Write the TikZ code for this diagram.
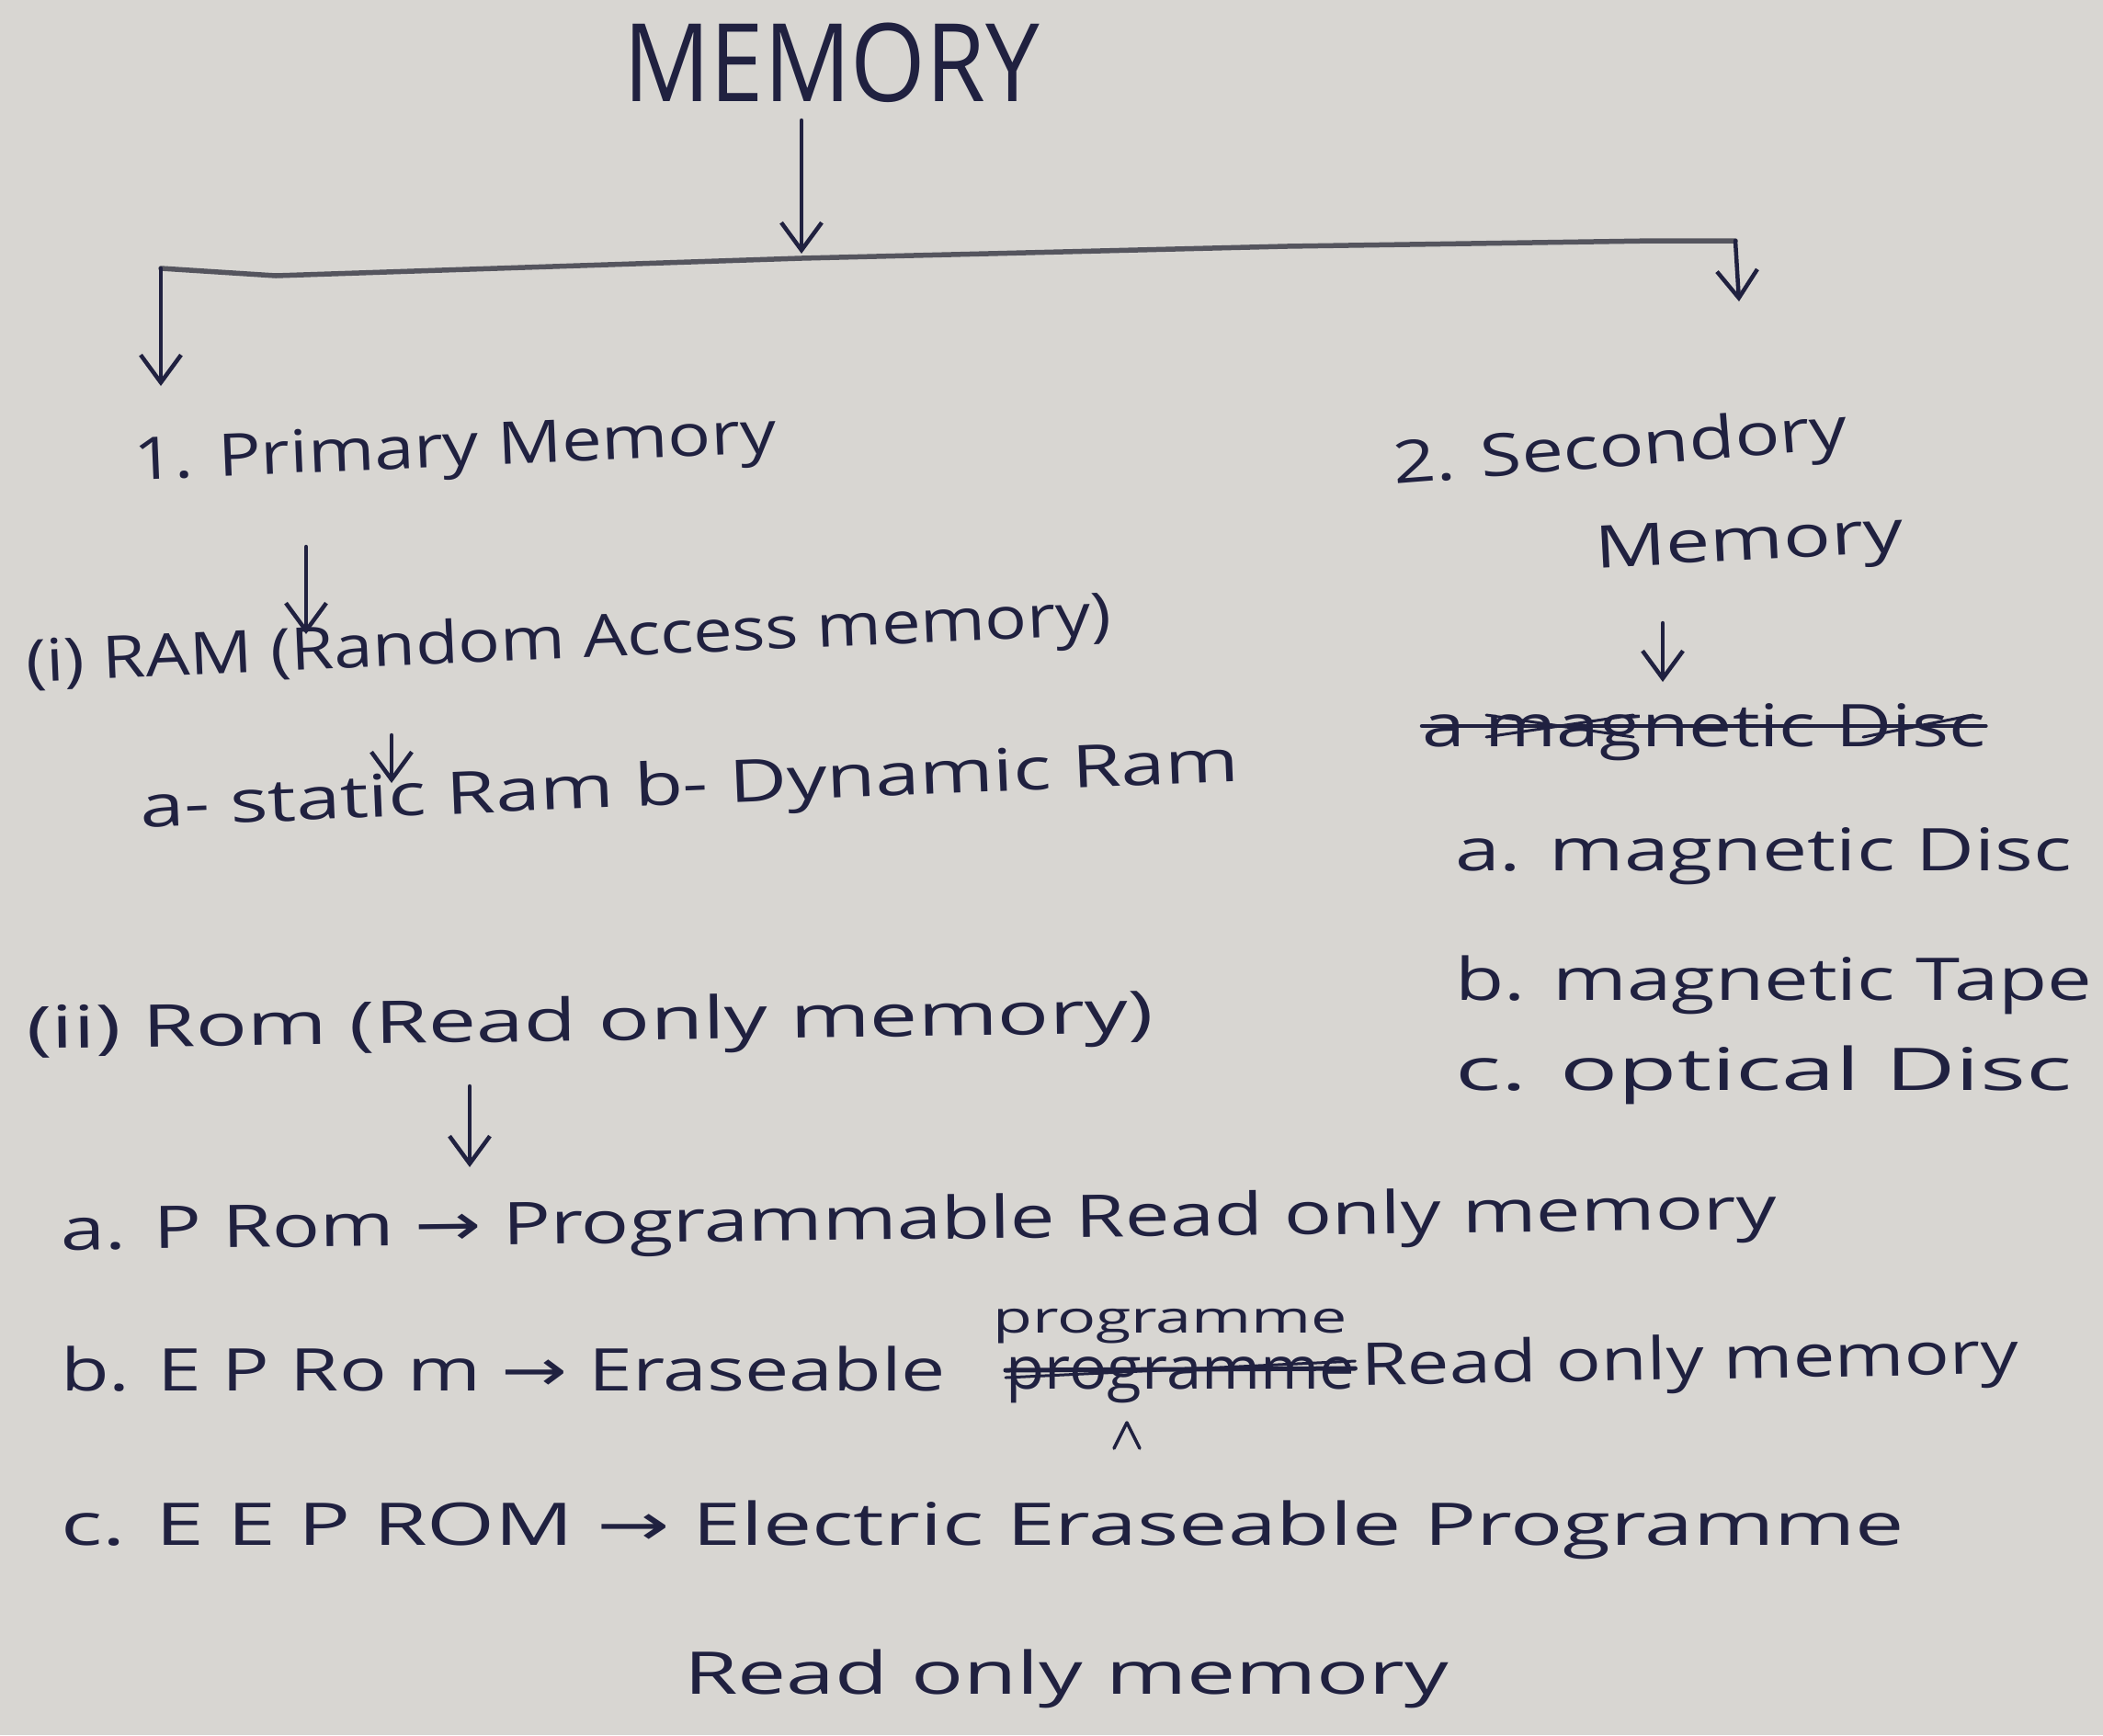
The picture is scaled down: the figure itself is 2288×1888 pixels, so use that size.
\documentclass[tikz,border=0pt]{standalone}
\usepackage{fontspec}
\setmainfont{Open Sans}
\newfontfamily\arrowfont{DejaVu Sans}
\usetikzlibrary{arrows.meta}
\definecolor{ink}{HTML}{202140}
\definecolor{paper}{HTML}{D8D6D2}
\definecolor{bar}{HTML}{55555E}
\newsavebox\fitbox
\newlength\fitlen
\newcommand\fitx[2]{\sbox\fitbox{#2}\fitlen=\wd\fitbox\pgfmathsetmacro\fitfac{#1/\the\fitlen}\scalebox{\fitfac}[1]{\usebox\fitbox}}
\newcommand\ar{{\arrowfont →}}
\tikzset{
  txt/.style={inner sep=0pt, anchor=base west, text=ink, font=\fontsize{64}{68}\selectfont},
  smalltxt/.style={txt, font=\fontsize{48}{52}\selectfont},
  arr/.style={draw=ink, line width=4.5pt, line cap=round, -{Straight Barb[length=30pt,width=44pt,line width=4.5pt]}},
  pen/.style={draw=ink, line width=4.5pt, line cap=round, line join=round}
}
\begin{document}
\begin{tikzpicture}[x=1pt,y=-1pt]
\fill[paper] (0,0) rectangle (2288,1888);
\useasboundingbox (0,0) rectangle (2288,1888);

% title
\node[txt, font=\fontsize{118}{120}\selectfont] (title) at (678,110) {\fitx{453}{MEMORY}};

% branch structure
\coordinate (jt) at (872,131);
\coordinate (j) at (872,276);
\coordinate (bl) at (175,292);
\coordinate (br) at (1888,262);
\coordinate (blend) at (175,420);
\coordinate (brend) at (1892,328);
\draw[arr] (jt) -- (j);
\draw[draw=bar, line width=5.5pt, line cap=round, line join=round] (bl) -- (300,300) -- (872,281) -- (1400,268) -- (1800,262) -- (br);
\draw[arr] (bl) -- (blend);
\draw[arr] (br) -- (brend);

% primary memory side
\node[txt, rotate=2.4] (prim) at (146,522) {\fitx{700}{1. Primary Memory}};
\coordinate (pa1) at (333,595);
\coordinate (pa2) at (333,690);
\draw[arr] (pa1) -- (pa2);

\node[txt, rotate=2.5] (ram) at (29,742) {\fitx{1182}{(i) RAM (Random Access memory)}};
\coordinate (ra1) at (426,800);
\coordinate (ra2) at (426,852);
\draw[arr] (ra1) -- (ra2);

\node[txt, rotate=2.4] (sram) at (153,900) {\fitx{1197}{a- static Ram b- Dynamic Ram}};

\node[txt, rotate=0.8] (rom) at (29,1141) {\fitx{1226}{(ii) Rom (Read only memory)}};
\coordinate (ro1) at (511,1182);
\coordinate (ro2) at (511,1270);
\draw[arr] (ro1) -- (ro2);

\node[txt, rotate=0.7] (pa) at (66,1360) {\fitx{1867}{a. P Rom \ar{} Programmable Read only memory}};

\node[txt] (b1) at (66,1513) {\fitx{963}{b. E P Ro m \ar{} Eraseable}};
\node[txt] (b2) at (1094,1511) {\fitx{380}{programme}};
\draw[pen, line width=5pt] ([yshift=20pt]b2.base west) -- ([yshift=22pt]b2.base east);
\draw[pen, line width=3pt] ([yshift=12pt]b2.base west) -- ([yshift=30pt]b2.base east);
\node[txt, rotate=1] (b3) at (1481,1507) {\fitx{715}{Read only memory}};
\node[smalltxt] (bs) at (1080,1450) {\fitx{386}{programme}};
\coordinate (c1) at (1212,1576);
\coordinate (c2) at (1226,1548);
\coordinate (c3) at (1240,1576);
\draw[pen, line width=3.5pt] (c1) -- (c2) -- (c3);

\node[txt] (pc) at (66,1681) {\fitx{2006}{c. E E P ROM \ar{} Electric Eraseable Programme}};
\node[txt] (pc2) at (744,1843) {\fitx{832}{Read only memory}};

% secondary memory side
\node[txt, rotate=4.5] (sec1) at (1517,527) {\fitx{496}{2. Secondory}};
\node[txt, rotate=3] (sec2) at (1736,618) {\fitx{336}{Memory}};
\coordinate (sa1) at (1809,678);
\coordinate (sa2) at (1809,742);
\draw[arr] (sa1) -- (sa2);

\node[txt] (xd) at (1547,812) {\fitx{613}{a magnetic Disc}};
\draw[pen] ([yshift=22pt]xd.base west) -- ([yshift=22pt]xd.base east);
\draw[pen, line width=3pt] ([xshift=70pt,yshift=10pt]xd.base west) -- ([xshift=230pt,yshift=34pt]xd.base west);
\draw[pen, line width=3pt] ([xshift=70pt,yshift=34pt]xd.base west) -- ([xshift=230pt,yshift=10pt]xd.base west);
\draw[pen, line width=3pt] ([xshift=480pt,yshift=10pt]xd.base west) -- ([xshift=600pt,yshift=34pt]xd.base west);

\node[txt] (m1) at (1583,947) {\fitx{671}{a. magnetic Disc}};
\node[txt] (m2) at (1583,1088) {\fitx{693}{b. magnetic Tape}};
\node[txt] (m3) at (1583,1186) {\fitx{671}{c. optical Disc}};
\end{tikzpicture}
\end{document}
